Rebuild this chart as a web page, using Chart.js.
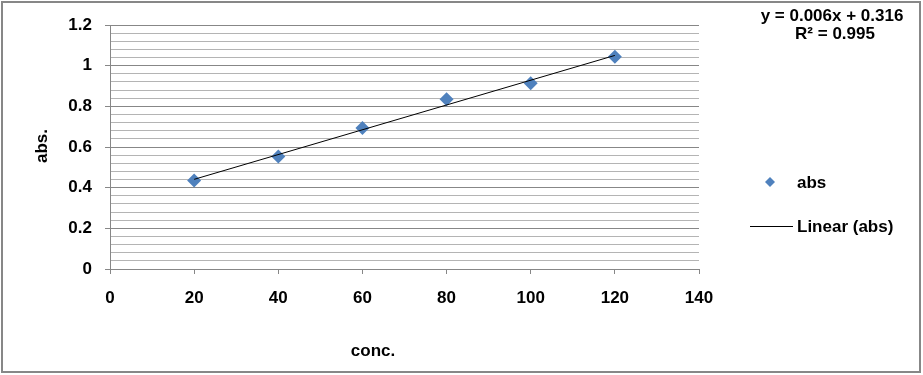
<!DOCTYPE html>
<html>
<head>
<meta charset="utf-8">
<script src="https://cdn.jsdelivr.net/npm/chart.js@4.4.0/dist/chart.umd.min.js"></script>
<style>
  html, body { margin: 0; padding: 0; background: #fff; }
  #wrap { width: 923px; height: 375px; position: relative; }
</style>
</head>
<body>
<div id="wrap"><canvas id="grafik" width="923" height="375"></canvas></div>
<script>
// data
const konsentrasi = [20, 40, 60, 80, 100, 120];
const absorbansi = [0.435, 0.553, 0.694, 0.835, 0.913, 1.044];
const teksPersamaan = 'y = 0.006x + 0.316';
const teksR2 = 'R\u00B2 = 0.995';
const labelSeri = 'abs';
const labelTren = 'Linear (abs)';
const judulX = 'conc.';
const judulY = 'abs.';

const abu = '#878787';
const abuMuda = '#b4b4b4';
const biru = '#4f81bd';
const FONT = "'Liberation Sans', Arial, sans-serif";
const UKURAN = 17;

// garis tren (least squares) dari data
function regresi(xs, ys) {
    const n = xs.length;
    const mx = xs.reduce((a, b) => a + b, 0) / n;
    const my = ys.reduce((a, b) => a + b, 0) / n;
    let sxy = 0, sxx = 0;
    for (let i = 0; i < n; i++) {
        sxy += (xs[i] - mx) * (ys[i] - my);
        sxx += (xs[i] - mx) * (xs[i] - mx);
    }
    const m = sxy / sxx;
    return { m: m, c: my - m * mx };
}
const fit = regresi(konsentrasi, absorbansi);
const xAwal = konsentrasi[0], xAkhir = konsentrasi[konsentrasi.length - 1];
const garisTren = [
    { x: xAwal, y: fit.m * xAwal + fit.c },
    { x: xAkhir, y: fit.m * xAkhir + fit.c }
];

const isMajor = v => Math.abs(v / 0.2 - Math.round(v / 0.2)) < 1e-6;

Chart.defaults.font.family = FONT;
Chart.defaults.font.size = UKURAN;
Chart.defaults.font.weight = 'bold';
Chart.defaults.color = '#000';

const hiasan = {
    id: 'hiasan',
    afterDraw(chart) {
        const ctx = chart.ctx;
        ctx.save();
        // bingkai luar
        ctx.strokeStyle = abu;
        ctx.lineWidth = 2;
        ctx.strokeRect(2, 2, 918, 370);

        ctx.fillStyle = '#000';
        ctx.font = 'bold ' + UKURAN + 'px ' + FONT;
        ctx.textBaseline = 'middle';

        // persamaan
        ctx.textAlign = 'center';
        ctx.fillText(teksPersamaan, 832, 16);
        ctx.fillText(teksR2, 835, 34);

        // judul sumbu
        ctx.fillText(judulX, 373, 351);
        ctx.save();
        ctx.translate(42, 146);
        ctx.rotate(-Math.PI / 2);
        ctx.fillText(judulY, 0, 0);
        ctx.restore();

        // legenda
        ctx.textAlign = 'left';
        ctx.fillStyle = biru;
        ctx.beginPath();
        ctx.moveTo(770, 177);
        ctx.lineTo(775, 182);
        ctx.lineTo(770, 187);
        ctx.lineTo(765, 182);
        ctx.closePath();
        ctx.fill();
        ctx.fillStyle = '#000';
        ctx.fillText(labelSeri, 797, 183);

        ctx.strokeStyle = '#000';
        ctx.lineWidth = 1;
        ctx.beginPath();
        ctx.moveTo(750, 226.5);
        ctx.lineTo(793, 226.5);
        ctx.stroke();
        ctx.fillText(labelTren, 797, 227);
        ctx.restore();
    }
};

new Chart(document.getElementById('grafik'), {
    type: 'scatter',
    data: {
        datasets: [
            {
                label: labelSeri,
                data: konsentrasi.map((x, i) => ({ x: x, y: absorbansi[i] })),
                pointStyle: 'rectRot',
                pointRadius: 7,
                backgroundColor: biru,
                borderColor: biru,
                borderWidth: 0,
                order: 2
            },
            {
                label: labelTren,
                type: 'line',
                data: garisTren,
                showLine: true,
                pointRadius: 0,
                borderColor: '#000',
                borderWidth: 1,
                fill: false,
                order: 1
            }
        ]
    },
    options: {
        responsive: false,
        animation: false,
        layout: { padding: { left: 0, right: 224, top: 25, bottom: 61 } },
        plugins: {
            legend: { display: false },
            tooltip: { enabled: false }
        },
        scales: {
            x: {
                type: 'linear',
                min: 0,
                max: 140,
                afterFit: s => { s.height = 45; },
                ticks: { stepSize: 20, padding: 14 },
                grid: {
                    drawOnChartArea: false,
                    drawTicks: true,
                    tickLength: 5,
                    tickColor: abu
                },
                border: { color: abu }
            },
            y: {
                min: 0,
                max: 1.2,
                afterFit: s => { s.width = 110; },
                ticks: {
                    stepSize: 0.04,
                    autoSkip: false,
                    padding: 13,
                    callback: v => isMajor(v) ? String(Math.round(v * 10) / 10) : ''
                },
                grid: {
                    color: c => (c.tick && isMajor(c.tick.value)) ? abu : abuMuda,
                    tickColor: c => (c.tick && isMajor(c.tick.value)) ? abu : 'rgba(0,0,0,0)',
                    tickLength: 5
                },
                border: { color: abu }
            }
        }
    },
    plugins: [hiasan]
});
</script>
</body>
</html>
